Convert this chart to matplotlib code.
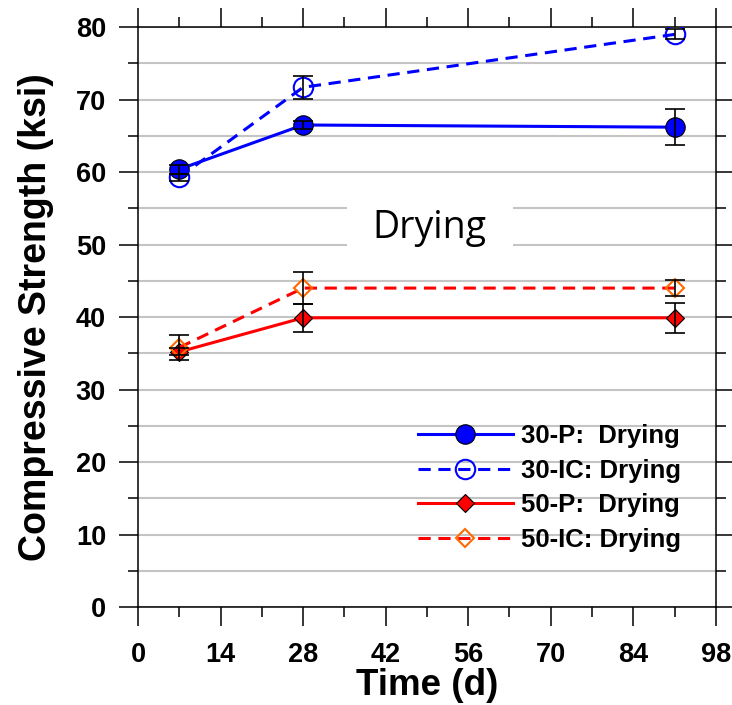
import numpy as np
import matplotlib
matplotlib.use("Agg")
import matplotlib.pyplot as plt
from matplotlib.ticker import MultipleLocator

# data
days = [7, 28, 91]
p30 = [60.4, 66.5, 66.2]
p30_err = [0.6, 0.6, 2.5]
ic30 = [59.3, 71.7, 79.0]
ic30_err = [0.5, 1.6, 0.7]
p50 = [35.2, 39.9, 39.9]
p50_err = [0.5, 1.9, 2.1]
ic50 = [35.8, 44.0, 44.0]
ic50_err = [1.7, 2.25, 1.1]

labels = ["30-P:  Drying", "30-IC: Drying", "50-P:  Drying", "50-IC: Drying"]

plt.rcParams['font.family'] = ['Liberation Sans', 'DejaVu Sans']

fig = plt.figure(figsize=(7.32, 7.05), dpi=100)
ax = fig.add_axes([0.1885, 0.139, 0.7895, 0.8225])

lw = 2.2
ax.plot(days, p30, color='blue', lw=lw, marker='o', ms=14, mfc='blue',
        mec='black', mew=0.8, label=labels[0], zorder=3)
ax.plot(days, ic30, color='blue', lw=lw, ls=(0, (4, 2.5)), marker='o', ms=14,
        mfc='none', mec='blue', mew=1.5, label=labels[1], zorder=3)
ax.plot(days, p50, color='red', lw=lw, marker='D', ms=9, mfc='red',
        mec='black', mew=0.8, label=labels[2], zorder=3)
ax.plot(days, ic50, color='red', lw=lw, ls=(0, (4, 2.5)), marker='D', ms=9,
        mfc='none', mec='#ff6a00', mew=1.5, label=labels[3], zorder=3)

for y, e in [(p30, p30_err), (ic30, ic30_err), (p50, p50_err), (ic50, ic50_err)]:
    ax.errorbar(days, y, yerr=e, fmt='none', ecolor='black', elinewidth=1.2,
                capsize=7, capthick=1.2, zorder=4)

ax.set_xlim(0, 98)
ax.set_ylim(0, 80)
ax.xaxis.set_major_locator(MultipleLocator(14))
ax.xaxis.set_minor_locator(MultipleLocator(7))
ax.yaxis.set_major_locator(MultipleLocator(10))
ax.yaxis.set_minor_locator(MultipleLocator(5))
ax.tick_params(which='both', direction='out', top=True, right=True, width=1.1,
               labelsize=19.5)
ax.tick_params(which='major', length=14)
ax.tick_params(which='minor', length=7)
ax.tick_params(axis='x', pad=11)
ax.tick_params(axis='y', pad=9)
for lab in ax.get_xticklabels() + ax.get_yticklabels():
    lab.set_fontweight('bold')
for s in ax.spines.values():
    s.set_linewidth(1.1)

ax.grid(True, which='both', axis='y', color='#c4c4c4', lw=1.5, zorder=0)
ax.set_axisbelow(True)

ax.set_xlabel("Time (d)", fontsize=26.5, fontweight='bold', labelpad=0)
ax.set_ylabel("Compressive Strength (ksi)", fontsize=27, fontweight='bold', labelpad=16)

ax.text(49.5, 52.3, "Drying", fontsize=27, family=['Open Sans', 'DejaVu Sans'],
        ha='center', va='center',
        bbox=dict(facecolor='white', edgecolor='none', pad=19), zorder=2)

leg = ax.legend(loc='upper left', bbox_to_anchor=(0.484, 0.315), frameon=False,
                prop={'weight': 'bold', 'size': 18.5}, handlelength=3.7,
                handletextpad=0.31, labelspacing=0.41, borderpad=0,
                borderaxespad=0)

fig.savefig("out.png", dpi=100)
